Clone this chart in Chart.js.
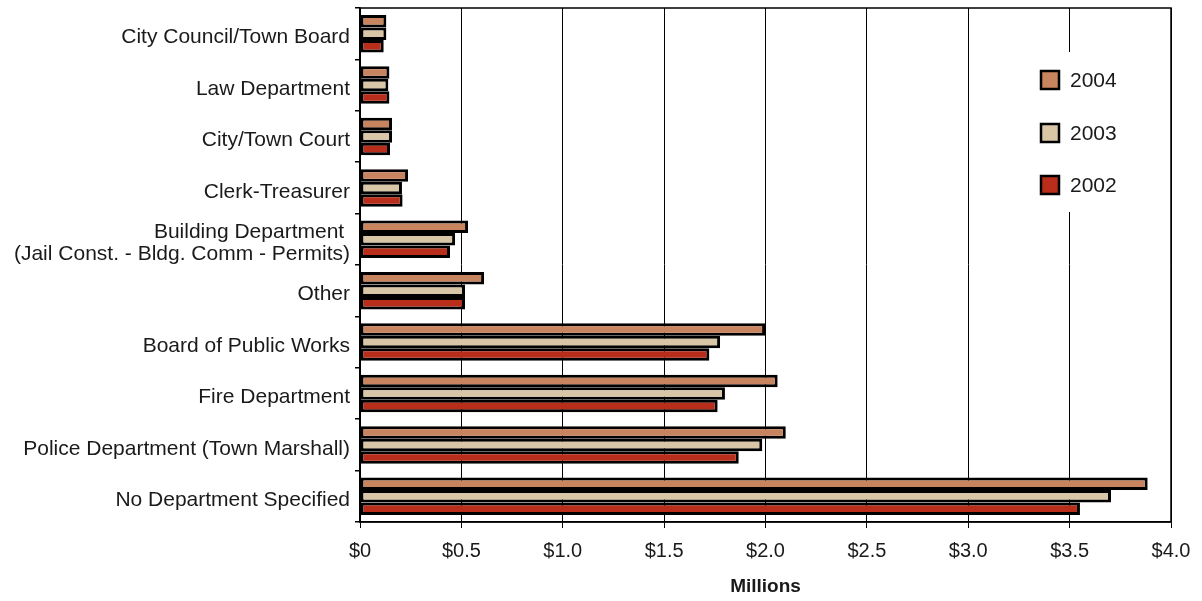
<!DOCTYPE html>
<html><head><meta charset="utf-8">
<script src="https://cdn.jsdelivr.net/npm/chart.js@4.4.1/dist/chart.umd.min.js"></script>
<style>html,body{margin:0;padding:0;background:#fff}#wrap{width:1202px;height:601px;position:relative}</style>
</head><body><div id="wrap"><canvas id="c" width="1202" height="601"></canvas></div>
<script>
const categories = ["City Council/Town Board","Law Department","City/Town Court","Clerk-Treasurer",["Building Department ","(Jail Const. - Bldg. Comm - Permits)"],"Other","Board of Public Works","Fire Department","Police Department (Town Marshall)","No Department Specified"];
const series2004 = [0.13,0.145,0.158,0.237,0.533,0.612,1.998,2.06,2.10,3.885];
const series2003 = [0.13,0.14,0.158,0.207,0.469,0.518,1.776,1.80,1.984,3.704];
const series2002 = [0.117,0.145,0.148,0.21,0.444,0.518,1.723,1.764,1.868,3.551];
const seriesNames = ["2004","2003","2002"];
const colors = ["#C8845E","#D8C6A6","#B82E1A"];
const xTicks = [0,0.5,1.0,1.5,2.0,2.5,3.0,3.5,4.0];
const FONT = '"Liberation Sans", Arial, sans-serif';

const legendPlugin = {
  id:'inlegend',
  afterDraw(chart){
    const ctx = chart.ctx, a = chart.chartArea;
    ctx.save();
    ctx.strokeStyle='#000'; ctx.lineWidth=1.5;
    ctx.strokeRect(a.left, a.top, a.right-a.left, a.bottom-a.top);
    ctx.fillStyle='#fff';
    ctx.fillRect(1030,52,110,160);
    const ys=[80,133,185];
    ctx.font='21px '+FONT;
    ctx.textBaseline='middle';
    chart.data.datasets.forEach((d,i)=>{
      ctx.fillStyle=d.backgroundColor;
      ctx.fillRect(1041,ys[i]-9,18,18);
      ctx.lineWidth=2.5; ctx.strokeStyle='#000';
      ctx.strokeRect(1041,ys[i]-9,18,18);
      ctx.fillStyle='#1a1a1a';
      ctx.fillText(d.label,1070,ys[i]+1);
    });
    ctx.restore();
  }
};

new Chart(document.getElementById('c'),{
  type:'bar',
  data:{labels:categories,datasets:[
    {label:seriesNames[0],data:series2004,backgroundColor:colors[0]},
    {label:seriesNames[1],data:series2003,backgroundColor:colors[1]},
    {label:seriesNames[2],data:series2002,backgroundColor:colors[2]}
  ].map(d=>Object.assign(d,{borderColor:'#000',borderWidth:3,borderSkipped:false,categoryPercentage:0.73,barPercentage:1.0}))},
  options:{
    indexAxis:'y',responsive:false,animation:false,
    layout:{padding:{top:8,right:31,left:0,bottom:0}},
    plugins:{legend:{display:false},tooltip:{enabled:false}},
    scales:{
      x:{min:0,max:4,
        afterBuildTicks(s){s.ticks=xTicks.map(v=>({value:v}));},
        afterFit(s){s.height=79;s.paddingLeft=0;s.paddingRight=0;},
        ticks:{color:'#1a1a1a',font:{family:FONT,size:20},padding:11,maxRotation:0,
          callback:v=>'$'+(v===0?'0':v.toFixed(1))},
        grid:{color:'#000',lineWidth:1,tickLength:6,tickColor:'#000'},
        border:{color:'#000',width:1.5},
        title:{display:true,text:'Millions',color:'#1a1a1a',font:{family:FONT,size:19,weight:'bold'},padding:{top:4,bottom:3}}
      },
      y:{
        afterFit(s){s.width=360;s.paddingTop=0;s.paddingBottom=0;},
        ticks:{color:'#1a1a1a',font:{family:FONT,size:21,lineHeight:1.05},padding:5,labelOffset:4},
        grid:{offset:true,drawOnChartArea:false,tickLength:5,tickColor:'#000',lineWidth:1.5},
        border:{color:'#000',width:1.5}
      }
    }
  },
  plugins:[legendPlugin]
});
</script></body></html>
